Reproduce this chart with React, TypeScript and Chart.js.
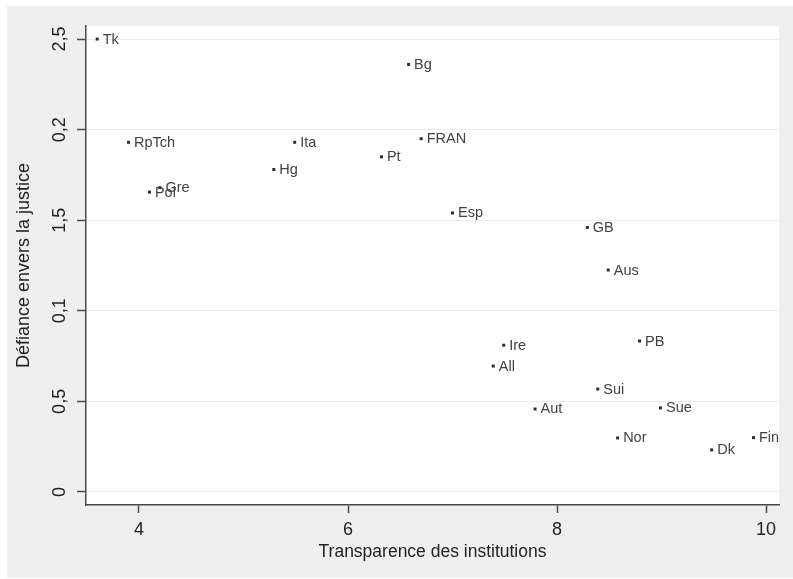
import React, { useEffect, useRef } from "react";
import { Chart, registerables } from "chart.js";

Chart.register(...registerables);

const countries = ["Tk", "Bg", "RpTch", "Ita", "FRAN", "Pt", "Hg", "Gre", "Pol", "Esp", "GB", "Aus", "PB", "Ire", "All", "Sui", "Sue", "Aut", "Nor", "Fin", "Dk"];
const transparence = [3.6, 6.58, 3.9, 5.49, 6.7, 6.32, 5.29, 4.2, 4.1, 7.0, 8.29, 8.49, 8.79, 7.49, 7.39, 8.39, 8.99, 7.79, 8.58, 9.88, 9.48];
const defiance = [2.5, 2.36, 1.93, 1.93, 1.95, 1.85, 1.78, 1.68, 1.655, 1.54, 1.46, 1.225, 0.833, 0.81, 0.695, 0.568, 0.464, 0.458, 0.298, 0.3, 0.232];

const xTicks = [4, 6, 8, 10];
const yTicks = [0, 0.5, 1, 1.5, 2, 2.5];
const yTickLabels = ["0", "0,5", "0,1", "1,5", "0,2", "2,5"];

const FONT = "'Liberation Sans', Arial, sans-serif";

const bgPlugin = {
  id: "bgPlugin",
  beforeDraw(chart: any) {
    const { ctx, chartArea } = chart;
    ctx.save();
    ctx.fillStyle = "#ffffff";
    ctx.fillRect(0, 0, chart.width, chart.height);
    ctx.fillStyle = "#efefef";
    ctx.fillRect(7, 6, chart.width - 7, chart.height - 7);
    ctx.fillStyle = "#ffffff";
    ctx.fillRect(chartArea.left, chartArea.top, chartArea.right - chartArea.left, chartArea.bottom - chartArea.top);
    ctx.restore();
  },
};

const labelPlugin = {
  id: "labelPlugin",
  afterDatasetsDraw(chart: any) {
    const { ctx } = chart;
    const meta = chart.getDatasetMeta(0);
    ctx.save();
    ctx.font = `14.5px ${FONT}`;
    ctx.fillStyle = "#424242";
    ctx.textAlign = "left";
    ctx.textBaseline = "middle";
    meta.data.forEach((el: any, i: number) => {
      ctx.fillText(countries[i], el.x + 5.5, el.y + 0.5);
    });
    ctx.restore();
  },
  afterDraw(chart: any) {
    const { ctx } = chart;
    const ys = chart.scales.y;
    ctx.save();
    ctx.font = `18px ${FONT}`;
    ctx.fillStyle = "#222222";
    ctx.textAlign = "center";
    ctx.textBaseline = "middle";
    yTicks.forEach((v, i) => {
      const py = ys.getPixelForValue(v);
      ctx.save();
      ctx.translate(60, py);
      ctx.rotate(-Math.PI / 2);
      ctx.fillText(yTickLabels[i], 0, 0);
      ctx.restore();
    });
    ctx.restore();
  },
};

export default function App() {
  const ref = useRef<HTMLCanvasElement | null>(null);
  useEffect(() => {
    if (!ref.current) return;
    const chart = new Chart(ref.current, {
      type: "scatter",
      data: {
        datasets: [
          {
            data: transparence.map((x, i) => ({ x, y: defiance[i] })),
            pointStyle: "rect",
            pointRadius: 2.1,
            pointBorderWidth: 0,
            backgroundColor: "#2b2b2b",
            borderColor: "#2b2b2b",
          },
        ],
      },
      options: {
        animation: false,
        responsive: false,
        devicePixelRatio: 1,
        layout: { padding: { left: 0, top: 26, right: 14, bottom: 0 }, autoPadding: false },
        plugins: { legend: { display: false }, tooltip: { enabled: false } },
        scales: {
          x: {
            type: "linear",
            min: 3.493,
            max: 10.124,
            afterBuildTicks: (s: any) => {
              s.ticks = xTicks.map((v) => ({ value: v }));
            },
            afterFit: (s: any) => {
              s.height = 74;
            },
            ticks: {
              font: { family: FONT, size: 18 },
              color: "#222222",
              padding: 6,
              callback: (v: any) => String(v),
            },
            grid: { drawOnChartArea: false, drawTicks: true, tickLength: 8, tickColor: "#4a4a4a", tickWidth: 1.5 },
            border: { display: true, color: "#4a4a4a", width: 1.5 },
            title: {
              display: true,
              text: "Transparence des institutions",
              font: { family: FONT, size: 17.5 },
              color: "#222222",
              padding: { top: 0, bottom: 16 },
            },
          },
          y: {
            type: "linear",
            min: -0.072,
            max: 2.572,
            afterBuildTicks: (s: any) => {
              s.ticks = yTicks.map((v) => ({ value: v }));
            },
            afterFit: (s: any) => {
              s.width = 86;
            },
            ticks: { display: false },
            grid: { drawOnChartArea: true, color: "#ececec", lineWidth: 1, drawTicks: true, tickLength: 9, tickColor: "#4a4a4a", tickWidth: 1.5 },
            border: { display: true, color: "#4a4a4a", width: 1.5 },
            title: {
              display: true,
              text: "Défiance envers la justice",
              font: { family: FONT, size: 18 },
              color: "#222222",
              padding: { top: 13, bottom: 0 },
            },
          },
        },
      },
      plugins: [bgPlugin, labelPlugin],
    } as any);
    return () => chart.destroy();
  }, []);
  return (
    <div style={{ position: "fixed", left: 0, top: 0, width: 793, height: 579 }}>
      <canvas ref={ref} width={793} height={579} style={{ display: "block", width: 793, height: 579 }} />
    </div>
  );
}
